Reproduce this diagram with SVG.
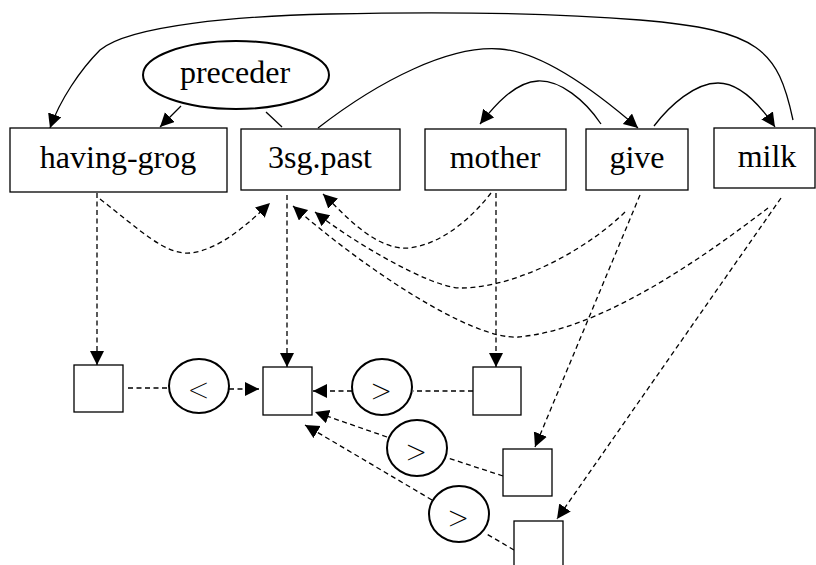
<svg xmlns="http://www.w3.org/2000/svg" width="816" height="565" viewBox="0 0 816 565">
  <style>
    .box { fill: #fff; stroke: #000; stroke-width: 1.3; }
    .oval { fill: #fff; stroke: #000; stroke-width: 2; }
    .lbl { font-family: "Liberation Serif", "Times New Roman", serif; font-size: 32px; fill: #000; text-anchor: middle; }
    .op { font-family: Roboto, "Liberation Sans", Arial, sans-serif; font-size: 40px; font-weight: 100; fill: #000; text-anchor: middle; }
    .solid { fill: none; stroke: #000; stroke-width: 1.3; }
    .dash { fill: none; stroke: #000; stroke-width: 1.3; stroke-dasharray: 5 3.5; }
    .arr { marker-end: url(#head); }
  </style>
  <defs>
    <marker id="head" markerUnits="userSpaceOnUse" markerWidth="16" markerHeight="16" refX="14" refY="7" orient="auto">
      <path d="M0,0 L14,7 L0,14 Z" fill="#000"/>
    </marker>
  </defs>

  <g id="connectors">
    <!-- solid relations among the word nodes -->
    <path class="solid arr" d="M181,106 L160,127"/>
    <path class="solid" d="M266,112 L282,127"/>
    <path class="solid arr" d="M318,128 C380,80 450,45 500,49 C545,52 600,95 638,128"/>
    <path class="solid arr" d="M601,124 C585,100 560,80 538,81 C515,82 495,105 480,124"/>
    <path class="solid arr" d="M654,126 C670,105 695,83 718,83 C740,83 760,105 775,127"/>
    <path class="solid arr" d="M793,120 C778,50 760,30 640,20 C540,12 420,12 330,14 C240,16 130,25 100,50 C80,70 60,100 50,128"/>

    <!-- dashed mappings from words -->
    <path class="dash arr" d="M97,193 L97,365"/>
    <path class="dash arr" d="M100,199 C140,230 165,255 190,253 C220,250 250,222 270,203"/>
    <path class="dash arr" d="M287,195 L287,367"/>
    <path class="dash arr" d="M491,193 C470,220 440,245 408,248 C375,250 345,215 323,194"/>
    <path class="dash arr" d="M625,212 C595,242 525,287 461,288 C430,288 350,240 315,212"/>
    <path class="dash arr" d="M768,208 C700,260 600,330 518,337 C470,340 360,265 293,206"/>
    <path class="dash arr" d="M496,193 L496,367"/>
    <path class="dash arr" d="M640,195 L535,447"/>
    <path class="dash arr" d="M781,198 L557,519"/>

    <!-- dashed ordering links among the slots -->
    <path class="dash" d="M128,388 L169,388"/>
    <path class="dash arr" d="M229,389 L259,389"/>
    <path class="dash" d="M473,391 L413,391"/>
    <path class="dash arr" d="M352,391 L313,391"/>
    <path class="dash" d="M503,476 L448,458"/>
    <path class="dash arr" d="M387,437 L315,412"/>
    <path class="dash" d="M514,550 L485,533"/>
    <path class="dash arr" d="M432,500 L305,425"/>
  </g>

  <g id="preceder">
    <ellipse class="oval" cx="236" cy="75" rx="93" ry="34"/>
    <text class="lbl" x="235" y="83">preceder</text>
  </g>
  <g id="having-grog">
    <rect class="box" x="10" y="128" width="217" height="64"/>
    <text class="lbl" x="118" y="168">having-grog</text>
  </g>
  <g id="past">
    <rect class="box" x="241" y="129" width="159" height="61"/>
    <text class="lbl" x="320" y="168">3sg.past</text>
  </g>
  <g id="mother">
    <rect class="box" x="425" y="129" width="141" height="61"/>
    <text class="lbl" x="495" y="168">mother</text>
  </g>
  <g id="give">
    <rect class="box" x="586" y="129" width="102" height="61"/>
    <text class="lbl" x="637" y="168">give</text>
  </g>
  <g id="milk">
    <rect class="box" x="714" y="128" width="101" height="60"/>
    <text class="lbl" x="767" y="167">milk</text>
  </g>

  <g id="slot1"><rect class="box" x="74" y="365" width="49" height="47"/></g>
  <g id="slot2"><rect class="box" x="263" y="367" width="49" height="48"/></g>
  <g id="slot3"><rect class="box" x="473" y="367" width="48" height="48"/></g>
  <g id="slot4"><rect class="box" x="503" y="449" width="49" height="47"/></g>
  <g id="slot5"><rect class="box" x="514" y="521" width="49" height="47"/></g>

  <g id="lt1">
    <ellipse class="oval" cx="199" cy="386" rx="30" ry="27"/>
    <text class="op" x="199" y="404">&lt;</text>
  </g>
  <g id="gt1">
    <ellipse class="oval" cx="382" cy="387" rx="30" ry="28"/>
    <text class="op" x="381" y="405">&gt;</text>
  </g>
  <g id="gt2">
    <ellipse class="oval" cx="417" cy="448" rx="30" ry="28"/>
    <text class="op" x="416" y="466">&gt;</text>
  </g>
  <g id="gt3">
    <ellipse class="oval" cx="459" cy="514" rx="30" ry="28"/>
    <text class="op" x="458" y="532">&gt;</text>
  </g>
</svg>
